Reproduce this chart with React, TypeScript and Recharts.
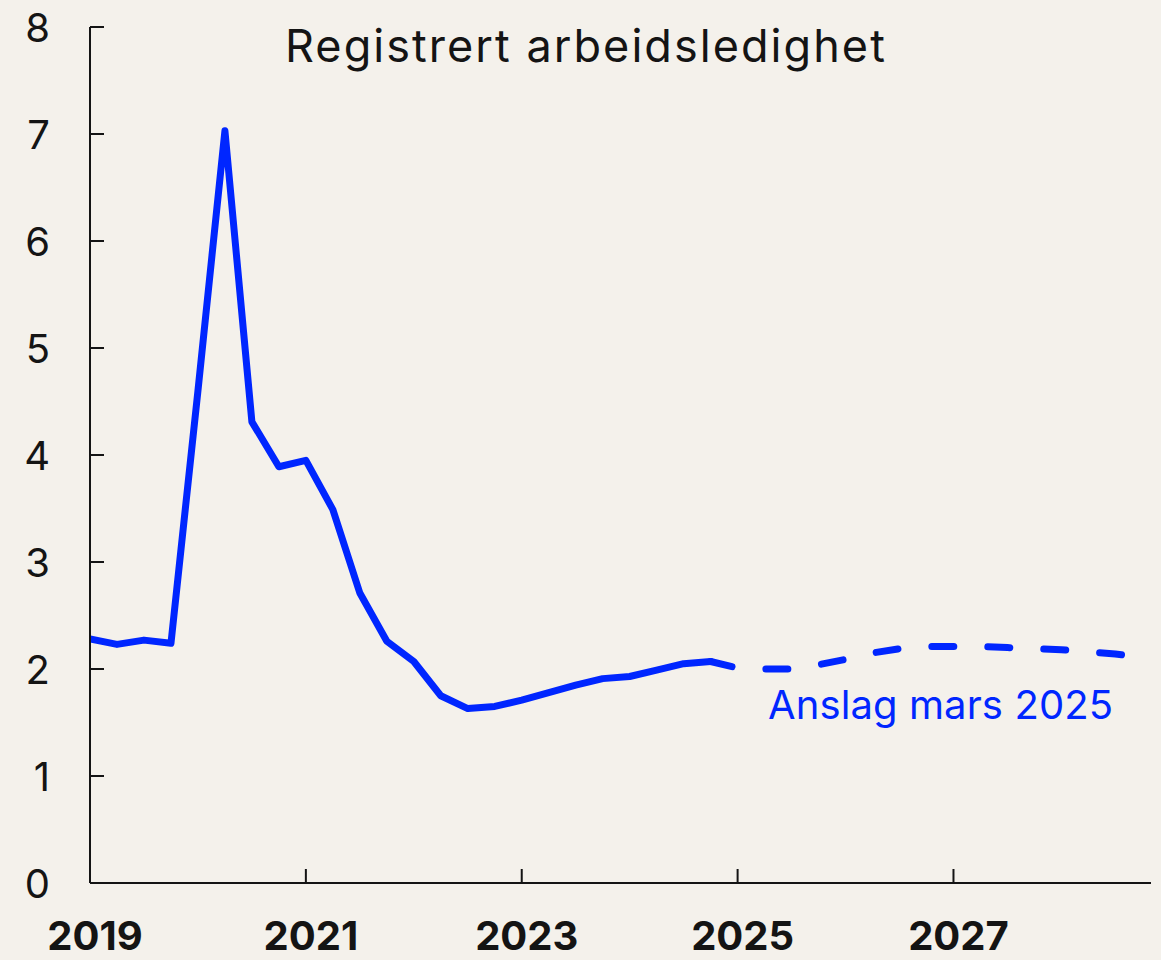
import { Line, LineChart, XAxis, YAxis } from "recharts";

// Registrert arbeidsledighet, prosent, kvartalstall
const quarters = [
  2019, 2019.25, 2019.5, 2019.75, 2020, 2020.25, 2020.5, 2020.75,
  2021, 2021.25, 2021.5, 2021.75, 2022, 2022.25, 2022.5, 2022.75,
  2023, 2023.25, 2023.5, 2023.75, 2024, 2024.25, 2024.5, 2024.75,
  2025, 2025.25, 2025.5, 2025.75, 2026, 2026.25, 2026.5, 2026.75,
  2027, 2027.25, 2027.5, 2027.75, 2028, 2028.25, 2028.5, 2028.75,
];

const actual = [
  2.28, 2.23, 2.27, 2.24, 4.6, 7.03, 4.31, 3.89,
  3.95, 3.49, 2.71, 2.26, 2.07, 1.75, 1.63, 1.65,
  1.71, 1.78, 1.85, 1.91, 1.93, 1.99, 2.05, 2.07,
];

// Anslag mars 2025, starter i siste faktiske kvartal
const forecastStart = 23;
const forecast = [
  2.07, 2.01, 2.0, 2.0, 2.04, 2.09, 2.15, 2.19, 2.21,
  2.21, 2.21, 2.2, 2.19, 2.18, 2.16, 2.14, 2.11,
];

const yTicks = [0, 1, 2, 3, 4, 5, 6, 7, 8];
const xTicks = [2019, 2021, 2023, 2025, 2027];

const data = quarters.map((q, i) => ({
  q,
  actual: i < actual.length ? actual[i] : null,
  forecast: i >= forecastStart ? forecast[i - forecastStart] ?? null : null,
}));

const BLUE = "#0026ff";
const INK = "#141414";
const FONT = "Inter, 'Noto Sans', sans-serif";

const YTick = (props: any) => {
  const { x, y, payload } = props;
  const axisX = x + 40;
  return (
    <g>
      <line x1={axisX} x2={axisX + 14} y1={y} y2={y} stroke={INK} strokeWidth={2} />
      <text
        x={x}
        y={y}
        textAnchor="end"
        dominantBaseline="central"
        fontFamily={FONT}
        fontSize={40}
        fill={INK}
      >
        {payload.value}
      </text>
    </g>
  );
};

const XTick = (props: any) => {
  const { x, y, payload } = props;
  return (
    <g>
      {payload.value !== 2019 && (
        <line x1={x} x2={x} y1={y} y2={y - 14} stroke={INK} strokeWidth={2} />
      )}
      <text
        x={x + 5}
        y={y + 67}
        textAnchor="middle"
        fontFamily={FONT}
        fontSize={40}
        fontWeight={700}
        fill={INK}
      >
        {payload.value}
      </text>
    </g>
  );
};

export default function App() {
  return (
    <div
      style={{
        position: "absolute",
        left: 0,
        top: 0,
        width: 1161,
        height: 960,
        background: "#f4f1eb",
        fontFamily: FONT,
      }}
    >
      <LineChart
        width={1161}
        height={960}
        data={data}
        margin={{ top: 27, right: 10, bottom: 0, left: 0 }}
      >
        <XAxis
          dataKey="q"
          type="number"
          domain={[2019, 2028.83]}
          ticks={xTicks}
          allowDataOverflow
          height={77}
          tickSize={0}
          tickMargin={0}
          tickLine={false}
          axisLine={{ stroke: INK, strokeWidth: 2 }}
          tick={<XTick />}
          interval={0}
        />
        <YAxis
          domain={[0, 8]}
          ticks={yTicks}
          width={90}
          tickSize={0}
          tickMargin={40}
          tickLine={false}
          axisLine={{ stroke: INK, strokeWidth: 2 }}
          tick={<YTick />}
          interval={0}
        />
        <Line
          type="linear"
          dataKey="actual"
          stroke={BLUE}
          strokeWidth={7}
          strokeLinecap="round"
          strokeLinejoin="round"
          dot={false}
          activeDot={false}
          connectNulls={false}
          isAnimationActive={false}
        />
        <Line
          type="linear"
          dataKey="forecast"
          stroke={BLUE}
          strokeWidth={7}
          strokeLinecap="round"
          strokeLinejoin="round"
          strokeDasharray="22 34"
          dot={false}
          activeDot={false}
          connectNulls={false}
          isAnimationActive={false}
        />
      </LineChart>
      <div
        style={{
          position: "absolute",
          left: 285,
          top: 16,
          fontSize: 45,
          letterSpacing: 2.05,
          color: INK,
          lineHeight: "60px",
          whiteSpace: "nowrap",
        }}
      >
        Registrert arbeidsledighet
      </div>
      <div
        style={{
          position: "absolute",
          left: 768,
          top: 680,
          fontSize: 40,
          letterSpacing: 0.1,
          color: BLUE,
          lineHeight: "50px",
          whiteSpace: "nowrap",
        }}
      >
        Anslag mars 2025
      </div>
    </div>
  );
}
